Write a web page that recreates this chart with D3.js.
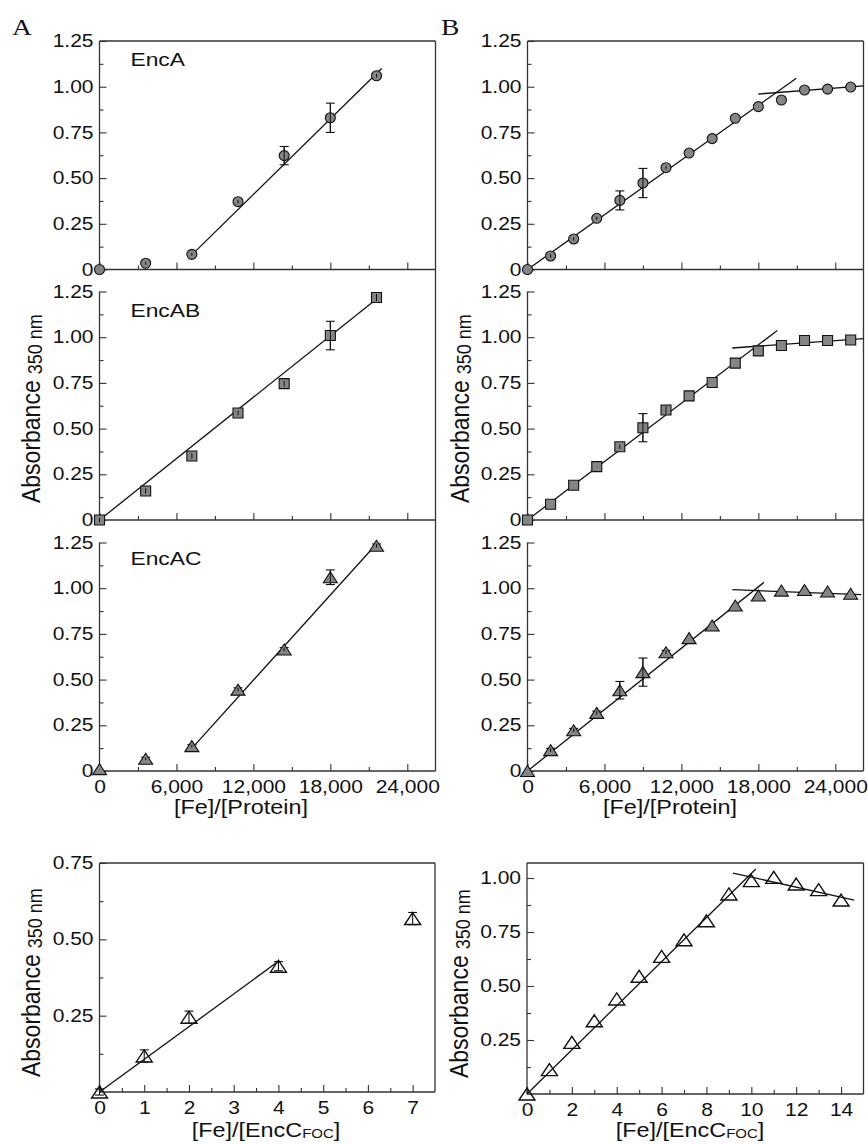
<!DOCTYPE html>
<html>
<head>
<meta charset="utf-8">
<script src="https://cdn.jsdelivr.net/npm/d3@7/dist/d3.min.js"></script>
<style>
  body { margin: 0; background: #fff; }
  text { font-family: "Liberation Sans", Arial, sans-serif; fill: #111; }
  text.letter { font-family: "Liberation Serif", "Times New Roman", serif; }
</style>
</head>
<body>
<div id="fig"></div>
<script>
// ---- data ----
var xProtein  = [0, 3600, 7200, 10800, 14400, 18000, 21600];
var xProteinB = [0, 1800, 3600, 5400, 7200, 9000, 10800, 12600, 14400, 16200, 18000, 19800, 21600, 23400, 25200];
var xFoc  = [0, 1, 2, 4, 7];
var xFocB = [0, 1, 2, 3, 4, 5, 6, 7, 8, 9, 10, 11, 12, 13, 14];

// panel A
var encA     = [0, 0.034, 0.083, 0.371, 0.623, 0.830, 1.060];
var encAErr  = [0, 0.008, 0.008, 0.01, 0.05, 0.08, 0.01];
var encAB    = [0, 0.159, 0.350, 0.585, 0.746, 1.009, 1.217];
var encABErr = [0.012, 0.015, 0.015, 0.012, 0.015, 0.078, 0.02];
var encAC    = [0.01, 0.067, 0.136, 0.445, 0.665, 1.060, 1.232];
var encACErr = [0, 0.008, 0.008, 0.01, 0.01, 0.04, 0.01];

// panel B
var encAB1    = [0, 0.074, 0.167, 0.280, 0.378, 0.473, 0.557, 0.637, 0.716, 0.827, 0.891, 0.927, 0.982, 0.987, 0.998];
var encAB1Err = [0, 0.01, 0.01, 0.01, 0.052, 0.08, 0.01, 0, 0, 0, 0, 0, 0, 0, 0];
var encAB2    = [0, 0.086, 0.190, 0.292, 0.401, 0.505, 0.602, 0.679, 0.752, 0.858, 0.925, 0.955, 0.982, 0.982, 0.985];
var encAB2Err = [0, 0, 0, 0, 0.012, 0.077, 0.022, 0, 0, 0, 0, 0, 0, 0, 0];
var encAB3    = [0, 0.114, 0.223, 0.318, 0.442, 0.541, 0.650, 0.727, 0.796, 0.905, 0.960, 0.987, 0.990, 0.982, 0.970];
var encAB3Err = [0, 0.01, 0.01, 0.01, 0.048, 0.077, 0.01, 0, 0, 0, 0, 0, 0, 0, 0];

// EncC FOC
var focA    = [0, 0.118, 0.245, 0.412, 0.568];
var focAErr = [0.01, 0.02, 0.02, 0.015, 0.02];
var focB    = [0, 0.113, 0.239, 0.339, 0.440, 0.545, 0.637, 0.714, 0.802, 0.926, 0.988, 1.003, 0.972, 0.946, 0.898];

// fitted lines (end points)
var fitA   = [[7200, 0.08], [22000, 1.10]];
var fitAB  = [[0, 0], [21800, 1.22]];
var fitAC  = [[7200, 0.124], [21700, 1.25]];
var fitB1  = [[[0, 0], [20960, 1.046]], [[18000, 0.96], [26200, 1.004]]];
var fitB2  = [[[0, 0], [19480, 1.037]], [[15970, 0.941], [26200, 0.992]]];
var fitB3  = [[[0, 0], [18440, 1.032]], [[15970, 0.992], [26030, 0.965]]];
var fitFocA = [[0, 0], [4, 0.428]];
var fitFocB = [[[0, 0], [10.2, 1.042]], [[9.18, 1.023], [14.58, 0.898]]];

// ticks
var yTicksTop   = [0, 0.25, 0.5, 0.75, 1.0, 1.25];
var yMinorTop   = [0.125, 0.375, 0.625, 0.875, 1.125];
var xTicksProt  = [0, 6000, 12000, 18000, 24000];
var xMinorProt  = [3000, 9000, 15000, 21000];
var yTicksFocA  = [0.25, 0.5, 0.75];
var yMinorFocA  = [0.125, 0.375, 0.625];
var xTicksFocA  = [0, 1, 2, 3, 4, 5, 6, 7];
var xMinorFocA  = [0.5, 1.5, 2.5, 3.5, 4.5, 5.5, 6.5];
var yTicksFocB  = [0.25, 0.5, 0.75, 1.0];
var yMinorFocB  = [0.125, 0.375, 0.625, 0.875];
var xTicksFocB  = [0, 2, 4, 6, 8, 10, 12, 14];
var xMinorFocB  = [1, 3, 5, 7, 9, 11, 13];

var SX = 1.2;   // the figure text is a bit wider than tall
var markFill = "#858585";

var svg = d3.select("#fig").append("svg")
    .attr("width", 868)
    .attr("height", 1144);

function frameLine(g, x1, y1, x2, y2) {
    g.append("line")
        .attr("x1", x1).attr("y1", y1).attr("x2", x2).attr("y2", y2)
        .attr("stroke", "#333").attr("stroke-width", 1.3);
}

function panel(o) {
    var x = d3.scaleLinear().domain(o.xDomain).range([o.left, o.right]);
    var y = d3.scaleLinear().domain([0, o.yMax]).range([o.bottom, o.yTopPx]);
    var g = svg.append("g");

    // frame
    frameLine(g, o.left, o.bottom, o.right, o.bottom);
    frameLine(g, o.right, o.frameTop, o.right, o.bottom);
    frameLine(g, o.left, o.spineTop, o.left, o.bottom);
    if (o.drawTop) frameLine(g, o.left, o.frameTop, o.right, o.frameTop);

    // x axis (ticks inward)
    var xa = g.append("g")
        .attr("transform", "translate(0," + o.bottom + ")")
        .call(d3.axisBottom(x).tickValues(o.xTicks).tickSizeInner(-7).tickSizeOuter(0)
            .tickPadding(10).tickFormat(o.xLabels ? o.xFmt : ""));
    var xm = g.append("g")
        .attr("transform", "translate(0," + o.bottom + ")")
        .call(d3.axisBottom(x).tickValues(o.xMinor).tickSizeInner(-4).tickSizeOuter(0).tickFormat(""));

    // y axis
    var ya = g.append("g")
        .attr("transform", "translate(" + o.left + ",0)")
        .call(d3.axisLeft(y).tickValues(o.yTicks).tickSizeInner(-7).tickSizeOuter(0)
            .tickPadding(5).tickFormat(function (d) { return d === 0 ? "0" : d3.format(".2f")(d); }));
    var ym = g.append("g")
        .attr("transform", "translate(" + o.left + ",0)")
        .call(d3.axisLeft(y).tickValues(o.yMinor).tickSizeInner(-4).tickSizeOuter(0).tickFormat(""));

    [xa, xm, ya, ym].forEach(function (a) {
        a.select(".domain").remove();
        a.selectAll("line").attr("stroke", "#333").attr("stroke-width", 1.1);
        a.selectAll("text")
            .attr("font-size", "17.5px")
            .attr("fill", "#111")
            .attr("transform", "scale(" + SX + ",1)");
    });

    // fit lines
    var line = d3.line().x(function (d) { return x(d[0]); }).y(function (d) { return y(d[1]); });
    o.fits.forEach(function (f) {
        g.append("path").attr("d", line(f))
            .attr("fill", "none").attr("stroke", "#111").attr("stroke-width", 1.3);
    });

    // error bars
    var pts = o.xs.map(function (v, i) {
        return {x: v, y: o.ys[i], e: o.errs ? o.errs[i] : 0};
    });
    var eb = g.append("g").selectAll("g")
        .data(pts.filter(function (d) { return d.e > 0; }))
        .enter().append("g")
        .attr("stroke", "#111").attr("stroke-width", 1.1);
    eb.append("line")
        .attr("x1", function (d) { return x(d.x); }).attr("x2", function (d) { return x(d.x); })
        .attr("y1", function (d) { return y(d.y - d.e); }).attr("y2", function (d) { return y(d.y + d.e); });
    eb.append("line")
        .attr("x1", function (d) { return x(d.x) - 4.5; }).attr("x2", function (d) { return x(d.x) + 4.5; })
        .attr("y1", function (d) { return y(d.y - d.e); }).attr("y2", function (d) { return y(d.y - d.e); });
    eb.append("line")
        .attr("x1", function (d) { return x(d.x) - 4.5; }).attr("x2", function (d) { return x(d.x) + 4.5; })
        .attr("y1", function (d) { return y(d.y + d.e); }).attr("y2", function (d) { return y(d.y + d.e); });

    // markers
    var fill = o.open ? "none" : markFill;
    var m = g.append("g").selectAll("path")
        .data(pts).enter().append("path")
        .attr("transform", function (d) { return "translate(" + x(d.x) + "," + y(d.y) + ")"; })
        .attr("fill", fill)
        .attr("stroke", "#111")
        .attr("stroke-width", o.open ? 1.4 : 1.1);
    if (o.shape === "circle") {
        m.attr("d", "M5,0A5,5 0 1,1 -5,0A5,5 0 1,1 5,0Z");
    } else if (o.shape === "square") {
        m.attr("d", "M-5,-5H5V5H-5Z");
    } else {
        var w = o.open ? 8 : 7, h = o.open ? 6 : 5.5;
        m.attr("d", "M0," + (-h) + "L" + w + "," + h + "L" + (-w) + "," + h + "Z");
    }
    // redraw tiny error lines on top of filled markers
    if (!o.open) {
        g.append("g").selectAll("line")
            .data(pts.filter(function (d) { return d.e > 0; }))
            .enter().append("line")
            .attr("x1", function (d) { return x(d.x); }).attr("x2", function (d) { return x(d.x); })
            .attr("y1", function (d) { return y(d.y - d.e); }).attr("y2", function (d) { return y(d.y + d.e); })
            .attr("stroke", "#111").attr("stroke-width", 1);
    }

    if (o.name) {
        g.append("text")
            .attr("transform", "translate(" + (o.left + 31) + "," + (o.nameY) + ") scale(" + SX + ",1)")
            .attr("font-size", "19px")
            .text(o.name);
    }
    return g;
}

var fmtComma = d3.format(",");
var fmtInt = d3.format("d");

// column geometry
var colA = {left: 99.5, right: 435.5};
var colB = {left: 527.5, right: 863.5};
var rows = [
    {frameTop: 41, bottom: 269.5, drawTop: true},
    {frameTop: 269.5, bottom: 520, drawTop: false},
    {frameTop: 520, bottom: 771, drawTop: false}
];
var unitH = 228.5; // pixel height of 1.25 absorbance

var setsA = [
    {ys: encA, errs: encAErr, shape: "circle", fits: [fitA], name: "EncA", nameY: 66},
    {ys: encAB, errs: encABErr, shape: "square", fits: [fitAB], name: "EncAB", nameY: 317},
    {ys: encAC, errs: encACErr, shape: "triangle", fits: [fitAC], name: "EncAC", nameY: 565}
];
var setsB = [
    {ys: encAB1, errs: encAB1Err, shape: "circle", fits: fitB1},
    {ys: encAB2, errs: encAB2Err, shape: "square", fits: fitB2},
    {ys: encAB3, errs: encAB3Err, shape: "triangle", fits: fitB3}
];

rows.forEach(function (r, i) {
    [[colA, setsA[i], xProtein], [colB, setsB[i], xProteinB]].forEach(function (c) {
        panel({
            left: c[0].left, right: c[0].right, bottom: r.bottom, frameTop: r.frameTop,
            yTopPx: r.bottom - unitH, spineTop: r.bottom - unitH, drawTop: r.drawTop,
            xDomain: [0, 26200], yMax: 1.25,
            xTicks: xTicksProt, xMinor: xMinorProt, xLabels: i === 2, xFmt: fmtComma,
            yTicks: yTicksTop, yMinor: yMinorTop,
            xs: c[2], ys: c[1].ys, errs: c[1].errs, shape: c[1].shape, fits: c[1].fits,
            name: c[1].name, nameY: c[1].nameY
        });
    });
});

// bottom EncC FOC panels
panel({
    left: 99.5, right: 435, bottom: 1092, frameTop: 863, yTopPx: 863, spineTop: 863, drawTop: true,
    xDomain: [0, 7.5], yMax: 0.75,
    xTicks: xTicksFocA, xMinor: xMinorFocA, xLabels: true, xFmt: fmtInt,
    yTicks: yTicksFocA, yMinor: yMinorFocA,
    xs: xFoc, ys: focA, errs: focAErr, shape: "triangle", open: true, fits: [fitFocA]
});
panel({
    left: 527, right: 863.5, bottom: 1094, frameTop: 863, yTopPx: 1094 - 216 * 1.07, spineTop: 863, drawTop: true,
    xDomain: [0, 15], yMax: 1.07,
    xTicks: xTicksFocB, xMinor: xMinorFocB, xLabels: true, xFmt: fmtInt,
    yTicks: yTicksFocB, yMinor: yMinorFocB,
    xs: xFocB, ys: focB, shape: "triangle", open: true, fits: fitFocB
});

// y axis titles
function yTitle(x, y) {
    var t = svg.append("text")
        .attr("transform", "translate(" + x + "," + y + ") scale(1.12,1) rotate(-90)")
        .attr("font-size", "23px");
    t.append("tspan").text("Absorbance");
    t.append("tspan").attr("font-size", "18px").attr("dx", 6).attr("dy", 2).text("350 nm");
}
yTitle(40, 503);
yTitle(469, 503);
yTitle(40, 1077);
yTitle(468, 1078);

// x axis titles
function xTitle(x, y, main, sub) {
    var t = svg.append("text")
        .attr("transform", "translate(" + x + "," + y + ") scale(" + SX + ",1)")
        .attr("text-anchor", "middle")
        .attr("font-size", "19.5px");
    t.append("tspan").text(main);
    if (sub) {
        t.append("tspan").attr("font-size", "12.5px").attr("dy", 1).text(sub);
        t.append("tspan").attr("dy", -1).text("]");
    }
}
xTitle(241, 814, "[Fe]/[Protein]");
xTitle(670, 814, "[Fe]/[Protein]");
xTitle(266, 1137, "[Fe]/[EncC", "FOC");
xTitle(690, 1137, "[Fe]/[EncC", "FOC");

// panel letters
[["A", 12], ["B", 441]].forEach(function (p) {
    svg.append("text")
        .attr("class", "letter")
        .attr("transform", "translate(" + p[1] + ",35) scale(" + SX + ",1)")
        .attr("font-size", "23px")
        .text(p[0]);
});
</script>
</body>
</html>
